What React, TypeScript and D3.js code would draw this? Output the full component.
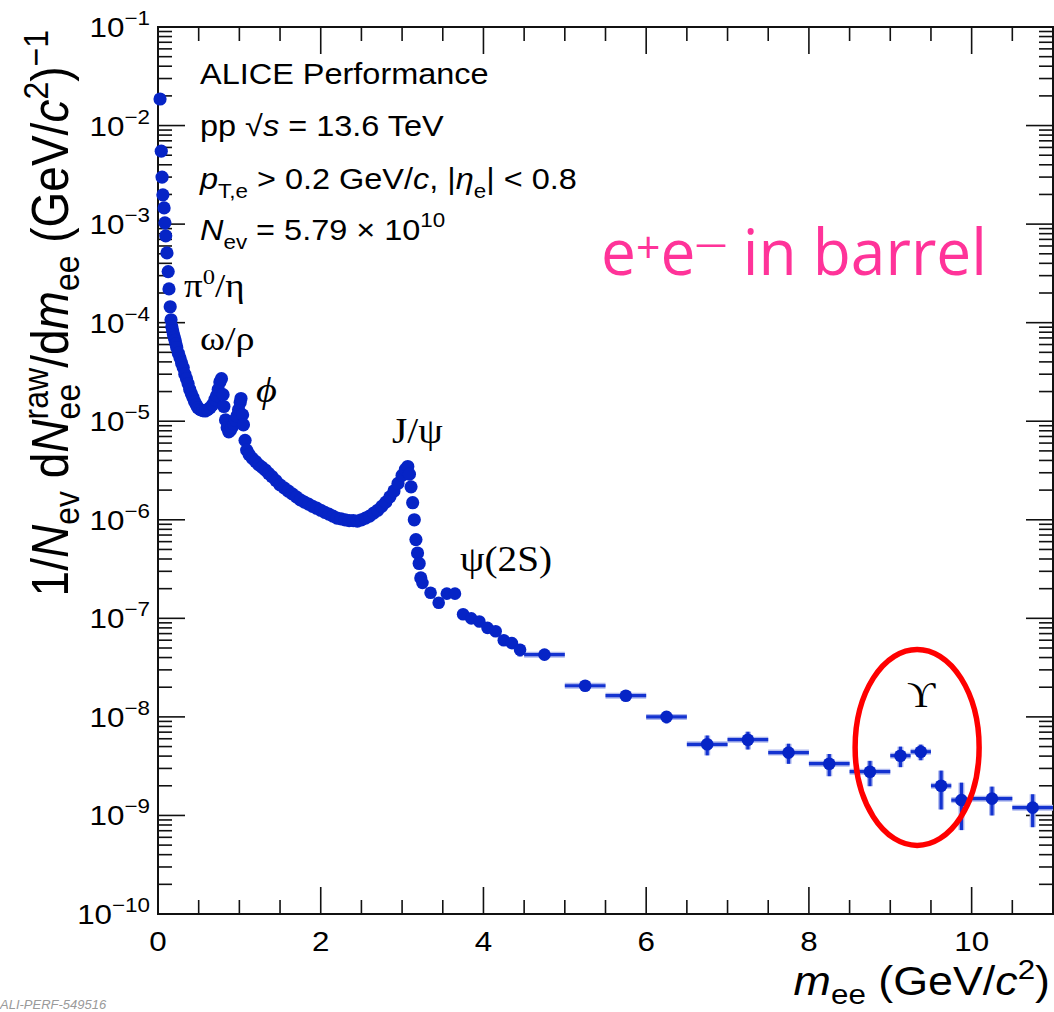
import React from "react";
import * as d3 from "d3";

const WIDTH = 1054;
const HEIGHT = 1012;
const frame = { left: 158, right: 1053, top: 27, bottom: 914 };

const SANS = "'Liberation Sans', Arial, Helvetica, sans-serif";
const SERIF = "'Liberation Serif', 'DejaVu Serif', 'Times New Roman', serif";
const BLUE = "#0624c6";
const SX = 1.12; // the original's text is a bit wider than plain Helvetica

// low-mass region: fine bins, so the markers merge into a band
// [m_ee (GeV/c^2), yield]
const fineBins: [number, number][] = [
  [0.025, 1.86e-2], [0.04, 5.5e-3], [0.05, 3.0e-3], [0.06, 1.98e-3],
  [0.075, 1.46e-3], [0.085, 1.03e-3], [0.095, 7.6e-4], [0.11, 5.1e-4],
  [0.125, 3.3e-4], [0.135, 2.2e-4], [0.15, 1.45e-4], [0.16, 1.07e-4],
  [0.17, 9.1e-5], [0.18, 8.3e-5], [0.19, 7.6e-5], [0.2, 7.1e-5],
  [0.21, 6.6e-5], [0.22, 6.1e-5], [0.23, 5.6e-5], [0.25, 4.9e-5],
  [0.27, 4.4e-5], [0.29, 3.9e-5], [0.31, 3.5e-5], [0.33, 3.0e-5],
  [0.35, 2.7e-5], [0.37, 2.4e-5], [0.39, 2.1e-5], [0.41, 1.9e-5],
  [0.43, 1.74e-5], [0.45, 1.58e-5], [0.47, 1.47e-5], [0.49, 1.37e-5],
  [0.52, 1.31e-5], [0.55, 1.28e-5], [0.58, 1.27e-5], [0.61, 1.31e-5],
  [0.64, 1.37e-5], [0.67, 1.47e-5], [0.7, 1.66e-5], [0.72, 1.82e-5],
  [0.74, 2.1e-5], [0.76, 2.5e-5], [0.78, 2.7e-5], [0.8, 1.86e-5],
  [0.81, 1.41e-5], [0.83, 1.03e-5], [0.85, 8.6e-6], [0.87, 7.8e-6],
  [0.89, 8.1e-6], [0.91, 8.7e-6], [0.93, 9.3e-6], [0.95, 1.03e-5],
  [0.97, 1.13e-5], [0.99, 1.31e-5], [1.01, 1.55e-5], [1.02, 1.7e-5],
  [1.04, 1.16e-5], [1.05, 9.2e-6], [1.07, 6.4e-6], [1.09, 5.1e-6],
  [1.12, 4.6e-6], [1.16, 4.2e-6], [1.2, 3.9e-6], [1.24, 3.6e-6],
  [1.28, 3.4e-6], [1.32, 3.2e-6], [1.36, 2.95e-6], [1.4, 2.75e-6],
  [1.45, 2.5e-6], [1.5, 2.26e-6], [1.55, 2.11e-6], [1.6, 1.96e-6],
  [1.65, 1.83e-6], [1.7, 1.71e-6], [1.75, 1.59e-6], [1.8, 1.51e-6],
  [1.85, 1.44e-6], [1.9, 1.37e-6], [1.95, 1.31e-6], [2.0, 1.25e-6],
  [2.05, 1.19e-6], [2.1, 1.14e-6], [2.15, 1.09e-6], [2.2, 1.04e-6],
  [2.25, 1.02e-6], [2.3, 1.0e-6], [2.35, 9.8e-7], [2.4, 9.8e-7],
  [2.45, 9.7e-7], [2.5, 1.0e-6], [2.55, 1.04e-6], [2.6, 1.09e-6],
  [2.65, 1.17e-6], [2.7, 1.25e-6], [2.75, 1.37e-6], [2.8, 1.51e-6],
  [2.85, 1.71e-6], [2.9, 1.96e-6], [2.95, 2.34e-6], [3.0, 2.82e-6],
  [3.04, 3.24e-6], [3.07, 3.47e-6], [3.09, 2.9e-6], [3.11, 2.16e-6],
  [3.13, 1.49e-6], [3.15, 1.0e-6], [3.17, 6.3e-7], [3.19, 4.6e-7],
  [3.21, 3.6e-7], [3.23, 2.57e-7],
];

// wider bins with error bars: [low edge, high edge, yield, stat. error]
const wideBins: [number, number, number, number][] = [
  [3.2, 3.3, 2.29e-7, 1.0e-8], [3.3, 3.4, 1.82e-7, 1.0e-8],
  [3.4, 3.5, 1.44e-7, 9e-9], [3.5, 3.6, 1.78e-7, 1.0e-8],
  [3.6, 3.7, 1.78e-7, 1.0e-8], [3.7, 3.8, 1.1e-7, 7e-9],
  [3.8, 3.9, 1.0e-7, 7e-9], [3.9, 4.0, 9.3e-8, 7e-9],
  [4.0, 4.1, 8.0e-8, 7e-9], [4.1, 4.2, 7.4e-8, 7e-9],
  [4.2, 4.3, 6.0e-8, 7e-9], [4.3, 4.4, 5.6e-8, 6e-9],
  [4.4, 4.5, 4.8e-8, 7e-9], [4.5, 5.0, 4.28e-8, 2e-9],
  [5.0, 5.5, 2.07e-8, 1e-9], [5.5, 6.0, 1.64e-8, 1e-9],
  [6.0, 6.5, 1.0e-8, 1.4e-9], [6.5, 7.0, 5.27e-9, 1.2e-9],
  [7.0, 7.5, 5.87e-9, 1.2e-9], [7.5, 8.0, 4.34e-9, 1.0e-9],
  [8.0, 8.5, 3.35e-9, 0.85e-9], [8.5, 9.0, 2.78e-9, 0.8e-9],
  [9.0, 9.25, 4.04e-9, 0.95e-9], [9.25, 9.5, 4.43e-9, 0.8e-9],
  [9.5, 9.75, 2.0e-9, 0.85e-9], [9.75, 10.0, 1.43e-9, 0.72e-9],
  [10.0, 10.5, 1.48e-9, 0.48e-9], [10.5, 11.0, 1.2e-9, 0.44e-9],
];

const xMajor = [0, 2, 4, 6, 8, 10];
const xMinor = d3.range(0.5, 11, 0.5).filter((v) => v % 2 !== 0);
const yExponents = d3.range(-10, 0);

function T({ x, y, size, anchor = "start", family = SANS, italic = false, fill = "#000", children }: any) {
  return (
    <text
      transform={`translate(${x},${y}) scale(${SX},1)`}
      fontSize={size}
      fontFamily={family}
      fontStyle={italic ? "italic" : undefined}
      textAnchor={anchor}
      fill={fill}
    >
      {children}
    </text>
  );
}

export default function App() {
  const x = d3.scaleLinear().domain([0, 11]).range([frame.left, frame.right]);
  const y = d3.scaleLog().domain([1e-10, 1e-1]).range([frame.bottom, frame.top]);

  const yMinor: number[] = [];
  yExponents.forEach((e) => {
    if (e >= -1) return;
    for (let k = 2; k <= 9; k++) yMinor.push(k * Math.pow(10, e));
  });

  const majorLen = 27;
  const minorLen = 14;

  return (
    <svg
      width={WIDTH}
      height={HEIGHT}
      style={{ position: "absolute", left: 0, top: 0, background: "#fff" }}
    >
      <rect width={WIDTH} height={HEIGHT} fill="#fff" />

      {/* ticks, all four sides, pointing inward */}
      <g stroke="#111" strokeWidth={1.6}>
        {xMajor.map((v) => (
          <g key={"xM" + v}>
            <line x1={x(v)} x2={x(v)} y1={frame.bottom} y2={frame.bottom - majorLen} />
            <line x1={x(v)} x2={x(v)} y1={frame.top} y2={frame.top + majorLen} />
          </g>
        ))}
        {xMinor.map((v) => (
          <g key={"xm" + v}>
            <line x1={x(v)} x2={x(v)} y1={frame.bottom} y2={frame.bottom - minorLen} />
            <line x1={x(v)} x2={x(v)} y1={frame.top} y2={frame.top + minorLen} />
          </g>
        ))}
        {yExponents.map((e) => (
          <g key={"yM" + e}>
            <line x1={frame.left} x2={frame.left + majorLen} y1={y(Math.pow(10, e))} y2={y(Math.pow(10, e))} />
            <line x1={frame.right} x2={frame.right - majorLen} y1={y(Math.pow(10, e))} y2={y(Math.pow(10, e))} />
          </g>
        ))}
        {yMinor.map((v, i) => (
          <g key={"ym" + i}>
            <line x1={frame.left} x2={frame.left + minorLen} y1={y(v)} y2={y(v)} />
            <line x1={frame.right} x2={frame.right - minorLen} y1={y(v)} y2={y(v)} />
          </g>
        ))}
      </g>
      <rect
        x={frame.left}
        y={frame.top}
        width={frame.right - frame.left}
        height={frame.bottom - frame.top}
        fill="none"
        stroke="#111"
        strokeWidth={2}
      />

      {/* tick labels */}
      {xMajor.map((v) => (
        <T key={"xl" + v} x={x(v)} y={951} size={28} anchor="middle">
          {v}
        </T>
      ))}
      {yExponents.map((e) => (
        <T key={"yl" + e} x={150} y={y(Math.pow(10, e)) + 10} size={28} anchor="end">
          10
          <tspan fontSize={20} dy={-12}>
            {"\u2212" + Math.abs(e)}
          </tspan>
        </T>
      ))}

      {/* axis titles */}
      <T x={1050} y={995} size={40} anchor="end">
        <tspan fontStyle="italic">m</tspan>
        <tspan fontSize={28} dy={9}>ee</tspan>
        <tspan dy={-9}> (GeV/</tspan>
        <tspan fontStyle="italic">c</tspan>
        <tspan fontSize={28} dy={-16}>2</tspan>
        <tspan dy={16}>)</tspan>
      </T>
      <text
        transform={`translate(68,30) rotate(-90) scale(1,${SX})`}
        fontSize={46}
        fontFamily={SANS}
        textAnchor="end"
      >
        1/
        <tspan fontStyle="italic">N</tspan>
        <tspan fontSize={32} dy={10}>ev</tspan>
        <tspan dy={-10}> d</tspan>
        <tspan fontStyle="italic">N</tspan>
        <tspan fontSize={32} dy={-18}>raw</tspan>
        <tspan fontSize={32} dx={-51.5} dy={29}>ee</tspan>
        <tspan dx={16} dy={-11}>/d</tspan>
        <tspan fontStyle="italic">m</tspan>
        <tspan fontSize={32} dy={10}>ee</tspan>
        <tspan dy={-10}> (GeV/</tspan>
        <tspan fontStyle="italic">c</tspan>
        <tspan fontSize={32} dy={-18}>2</tspan>
        <tspan dy={18}>)</tspan>
        <tspan fontSize={32} dy={-18}>{"\u22121"}</tspan>
      </text>

      {/* data: error bars first, then markers */}
      <g stroke="#aeb8ee" strokeWidth={6} strokeLinecap="butt">
        {wideBins.map(([lo, hi, v, err], i) => (
          <g key={"eu" + i}>
            <line x1={x(lo)} x2={x(hi)} y1={y(v)} y2={y(v)} />
            <line x1={x((lo + hi) / 2)} x2={x((lo + hi) / 2)} y1={y(v - err)} y2={y(v + err)} />
          </g>
        ))}
      </g>
      <g stroke="#1433d0" strokeWidth={3.2}>
        {wideBins.map(([lo, hi, v, err], i) => (
          <g key={"e" + i}>
            <line x1={x(lo)} x2={x(hi)} y1={y(v)} y2={y(v)} />
            <line x1={x((lo + hi) / 2)} x2={x((lo + hi) / 2)} y1={y(v - err)} y2={y(v + err)} />
          </g>
        ))}
      </g>
      <g fill={BLUE}>
        {fineBins.map(([m, v], i) => (
          <circle key={"f" + i} cx={x(m)} cy={y(v)} r={6.6} />
        ))}
        {wideBins.map(([lo, hi, v], i) => (
          <circle key={"w" + i} cx={x((lo + hi) / 2)} cy={y(v)} r={6.3} />
        ))}
      </g>

      {/* info block */}
      <T x={200} y={84} size={29}>ALICE Performance</T>
      <T x={200} y={136} size={29}>
        pp  √<tspan fontStyle="italic">s</tspan> = 13.6 TeV
      </T>
      <T x={200} y={189} size={29}>
        <tspan fontStyle="italic">p</tspan>
        <tspan fontSize={20} dy={9}>T,e</tspan>
        <tspan dy={-9}> {">"} 0.2 GeV/</tspan>
        <tspan fontStyle="italic">c</tspan>, |
        <tspan fontStyle="italic">η</tspan>
        <tspan fontSize={20} dy={9}>e</tspan>
        <tspan dy={-9}>| {"<"} 0.8</tspan>
      </T>
      <T x={200} y={240} size={29}>
        <tspan fontStyle="italic">N</tspan>
        <tspan fontSize={20} dy={9}>ev</tspan>
        <tspan dy={-9}> = 5.79 × 10</tspan>
        <tspan fontSize={20} dy={-13}>10</tspan>
      </T>

      {/* resonance labels */}
      <T x={184} y={297} size={33} family={SERIF}>
        π<tspan fontSize={22} dy={-13}>0</tspan>
        <tspan dy={13}>/η</tspan>
      </T>
      <T x={200} y={350} size={34} family={SERIF}>ω/ρ</T>
      <T x={256} y={402} size={36} family={SERIF} italic>ϕ</T>
      <T x={392} y={443} size={35} family={SERIF}>J/ψ</T>
      <T x={460} y={571} size={35} family={SERIF}>ψ(2S)</T>
      <T x={907} y={707} size={35} family={SERIF}>ϒ</T>

      {/* overlay annotations */}
      <ellipse
        cx={x(9.33)}
        cy={y(4.9e-9)}
        rx={62}
        ry={98}
        fill="none"
        stroke="#ff0000"
        strokeWidth={5.5}
      />
      <text
        x={601}
        y={275}
        fontFamily="'Open Sans', 'Noto Sans', sans-serif"
        fontSize={64}
        fill="#ff3399"
        textLength={386}
        lengthAdjust="spacingAndGlyphs"
      >
        e<tspan fontSize={44} dy={-12}>+</tspan>
        <tspan dy={12}>e</tspan>
        <tspan fontSize={32} dy={-20}>—</tspan>
        <tspan dy={20}> in barrel</tspan>
      </text>

      <text x={0} y={1009} fontFamily={SANS} fontStyle="italic" fontSize={13} fill="#9a9a9a">
        ALI-PERF-549516
      </text>
    </svg>
  );
}
